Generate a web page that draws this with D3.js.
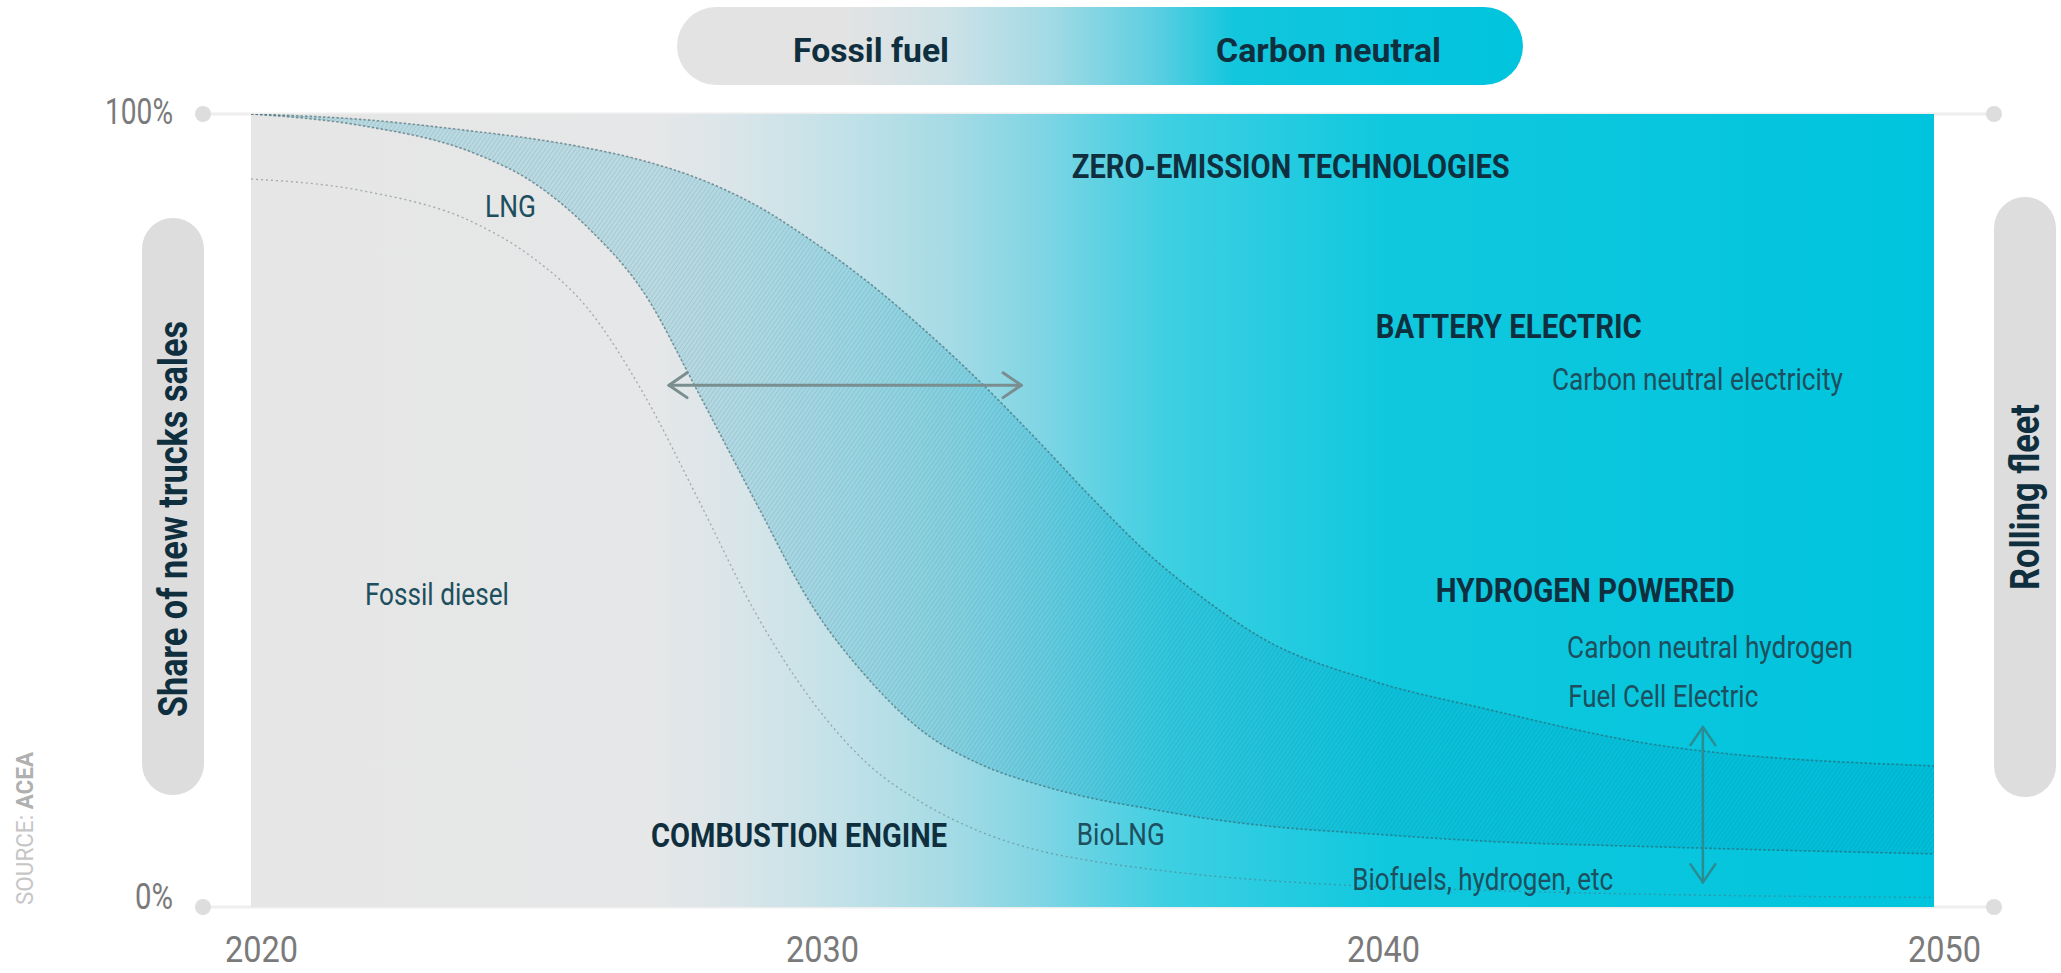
<!DOCTYPE html>
<html>
<head>
<meta charset="utf-8">
<script src="https://cdn.jsdelivr.net/npm/d3@7"></script>
<style>
  body { margin: 0; background: #fff; }
  svg text { font-family: Roboto, "Noto Sans", sans-serif; }
</style>
</head>
<body>
<div id="viz"></div>
<script>
// share of new truck sales (%)
const years        = [2020, 2022, 2024, 2025, 2026, 2027, 2028, 2029, 2030, 2031, 2032, 2033, 2034, 2035, 2036, 2037, 2038, 2040, 2042, 2045, 2050];
const zeroEmission = [100, 99.3, 97.8, 96.9, 95.7, 94.1, 91.8, 88.5, 84.0, 78.8, 72.8, 66.2, 59.0, 51.5, 44.5, 38.8, 34.0, 28.5, 25.0, 20.5, 17.8];
const lngLower     = [100, 98.5, 95.0, 91.5, 85.7, 77.5, 64.5, 51.0, 38.0, 28.8, 22.0, 18.0, 15.5, 13.7, 12.4, 11.2, 10.3, 9.2, 8.3, 7.6, 6.7];
const diesel       = [91.8, 90.3, 86.2, 82.0, 75.5, 64.7, 51.0, 37.0, 26.0, 18.0, 13.0, 9.5, 7.2, 5.8, 4.8, 4.0, 3.4, 2.6, 2.1, 1.6, 1.2];
const yearTicks    = [2020, 2030, 2040, 2050];
const pctTicks     = [0, 100];

const W = 2061, H = 973;
const P = {left: 251, right: 1934, top: 114, bottom: 907};
const DARK = '#0f2f3f', MID = '#1d4f5e', GREY = '#7a7a7a', CYAN = '#00c4dd';

const x = d3.scaleLinear().domain([2020, 2050]).range([P.left, P.right]);
const y = d3.scaleLinear().domain([0, 100]).range([P.bottom, P.top]);

const rows = years.map((yr, i) => ({year: yr, hi: zeroEmission[i], lo: lngLower[i], diesel: diesel[i]}));

const svg = d3.select('#viz').append('svg')
    .attr('width', W)
    .attr('height', H);

const defs = svg.append('defs');

const plotGrad = defs.append('linearGradient')
    .attr('id', 'plotGrad')
    .attr('gradientUnits', 'userSpaceOnUse')
    .attr('x1', P.left).attr('x2', P.right).attr('y1', 0).attr('y2', 0);
[[0, '#e6e6e6'], [0.24, '#e6e7e8'], [0.29, '#d9e5e9'], [0.356, '#c0e1e8'], [0.415, '#a5dbe5'],
 [0.469, '#80d5e4'], [0.513, '#58d1e3'], [0.546, '#3dcfe2'], [0.674, '#10c8de'], [1, CYAN]]
    .forEach(s => plotGrad.append('stop').attr('offset', s[0]).attr('stop-color', s[1]));

const pillGrad = defs.append('linearGradient')
    .attr('id', 'pillGrad')
    .attr('x1', 0).attr('x2', 1).attr('y1', 0).attr('y2', 0);
[[0, '#e3e3e3'], [0.2, '#e3e3e3'], [0.32, '#cde2e7'], [0.44, '#a2dae5'], [0.56, '#60cfe1'], [0.66, '#12c6dd'], [1, CYAN]]
    .forEach(s => pillGrad.append('stop').attr('offset', s[0]).attr('stop-color', s[1]));

const hatch = defs.append('pattern')
    .attr('id', 'hatch')
    .attr('width', 3.5).attr('height', 3.5)
    .attr('patternUnits', 'userSpaceOnUse')
    .attr('patternTransform', 'rotate(35)');
hatch.append('line')
    .attr('x1', 0).attr('y1', 0).attr('x2', 0).attr('y2', 3.5)
    .attr('stroke', 'rgba(0,70,90,0.17)')
    .attr('stroke-width', 1.2);

defs.append('clipPath').attr('id', 'plotClip')
  .append('rect')
    .attr('x', P.left).attr('y', P.top)
    .attr('width', P.right - P.left).attr('height', P.bottom - P.top);

// guide lines and dots at 0% / 100%
const dotL = P.left - 48, dotR = P.right + 60;
svg.selectAll('.guide')
    .data(pctTicks)
    .enter().append('line')
    .attr('x1', dotL).attr('x2', dotR)
    .attr('y1', d => y(d)).attr('y2', d => y(d))
    .attr('stroke', '#eeeeee')
    .attr('stroke-width', 3);
svg.selectAll('.dot')
    .data(pctTicks.flatMap(d => [[dotL, d], [dotR, d]]))
    .enter().append('circle')
    .attr('cx', d => d[0]).attr('cy', d => y(d[1]))
    .attr('r', 8)
    .attr('fill', '#dddddd');

// plot background
svg.append('rect')
    .attr('x', P.left).attr('y', P.top)
    .attr('width', P.right - P.left).attr('height', P.bottom - P.top)
    .attr('fill', 'url(#plotGrad)');

const plot = svg.append('g').attr('clip-path', 'url(#plotClip)');

const band = d3.area()
    .x(d => x(d.year))
    .y0(d => y(d.lo))
    .y1(d => y(d.hi))
    .curve(d3.curveMonotoneX);

plot.append('path').datum(rows)
    .attr('d', band)
    .attr('fill', 'rgba(0,160,195,0.19)');
plot.append('path').datum(rows)
    .attr('d', band)
    .attr('fill', 'url(#hatch)');

const edge = key => d3.line()
    .x(d => x(d.year))
    .y(d => y(d[key]))
    .curve(d3.curveMonotoneX);

['hi', 'lo'].forEach(k => {
    plot.append('path').datum(rows)
        .attr('d', edge(k))
        .attr('fill', 'none')
        .attr('stroke', 'rgba(50,85,95,0.55)')
        .attr('stroke-width', 1.6)
        .attr('stroke-dasharray', '2.5,2');
});
plot.append('path').datum(rows)
    .attr('d', edge('diesel'))
    .attr('fill', 'none')
    .attr('stroke', 'rgba(90,100,105,0.45)')
    .attr('stroke-width', 1.4)
    .attr('stroke-dasharray', '2,3');

// double arrows
function arrow(x1, y1, x2, y2, color, w) {
    const g = svg.append('g')
        .attr('stroke', color)
        .attr('stroke-width', w)
        .attr('fill', 'none')
        .attr('stroke-linecap', 'round')
        .attr('stroke-linejoin', 'round');
    g.append('line').attr('x1', x1).attr('y1', y1).attr('x2', x2).attr('y2', y2);
    const a = Math.atan2(y2 - y1, x2 - x1), L = 22, s = 0.6;
    [[x1, y1, a], [x2, y2, a + Math.PI]].forEach(([px, py, ang]) => {
        g.append('path').attr('d',
            `M${px + L * Math.cos(ang + s)},${py + L * Math.sin(ang + s)}L${px},${py}L${px + L * Math.cos(ang - s)},${py + L * Math.sin(ang - s)}`);
    });
}
arrow(x(2027.45), y(65.8), x(2033.73), y(65.8), '#7a8e90', 3);
arrow(x(2045.88), y(22.7), x(2045.88), y(3.1), '#2b8c93', 2.5);

// annotations inside the plot
const labels = [
    {t: 'ZERO-EMISSION TECHNOLOGIES', yr: 2034.63, v: 91.9, b: true, len: 438},
    {t: 'BATTERY ELECTRIC', yr: 2040.05, v: 71.75, b: true, len: 266},
    {t: 'Carbon neutral electricity', yr: 2043.19, v: 65.2, b: false, len: 291},
    {t: 'HYDROGEN POWERED', yr: 2041.12, v: 38.46, b: true, len: 299},
    {t: 'Carbon neutral hydrogen', yr: 2043.46, v: 31.4, b: false, len: 286},
    {t: 'Fuel Cell Electric', yr: 2043.48, v: 25.2, b: false, len: 190},
    {t: 'Biofuels, hydrogen, etc', yr: 2039.63, v: 2.14, b: false, len: 261},
    {t: 'BioLNG', yr: 2034.72, v: 7.82, b: false, len: 88},
    {t: 'COMBUSTION ENGINE', yr: 2027.13, v: 7.57, b: true, len: 296},
    {t: 'Fossil diesel', yr: 2022.03, v: 38.1, b: false, len: 144},
    {t: 'LNG', yr: 2024.17, v: 87.0, b: false, len: 51}
];
svg.selectAll('.lab')
    .data(labels)
    .enter().append('text')
    .attr('x', d => x(d.yr))
    .attr('y', d => y(d.v))
    .attr('font-size', d => d.b ? 34 : 31)
    .attr('font-weight', d => d.b ? 700 : 400)
    .attr('fill', d => d.b ? DARK : MID)
    .attr('textLength', d => d.len)
    .attr('lengthAdjust', 'spacingAndGlyphs')
    .text(d => d.t);

// axes
const xAxis = svg.append('g')
    .attr('transform', `translate(10,${P.bottom})`)
    .call(d3.axisBottom(x).tickValues(yearTicks).tickFormat(d3.format('d')).tickSize(0).tickPadding(29));
xAxis.select('.domain').remove();
xAxis.selectAll('text')
    .attr('font-size', 37)
    .attr('fill', GREY)
    .attr('textLength', 73)
    .attr('lengthAdjust', 'spacingAndGlyphs');

const yAxis = svg.append('g')
    .attr('transform', `translate(${dotL},0)`)
    .call(d3.axisLeft(y).tickValues(pctTicks).tickFormat(d => d + '%').tickSize(0).tickPadding(30));
yAxis.select('.domain').remove();
yAxis.selectAll('text')
    .attr('font-size', 36)
    .attr('fill', GREY)
    .attr('dy', d => d === 0 ? '0.05em' : '0.25em')
    .attr('textLength', d => d === 0 ? 38 : 68)
    .attr('lengthAdjust', 'spacingAndGlyphs');

// top pill
svg.append('rect')
    .attr('x', 677).attr('y', 7).attr('width', 846).attr('height', 78).attr('rx', 39)
    .attr('fill', 'url(#pillGrad)');
[['Fossil fuel', 793, 156], ['Carbon neutral', 1216, 225]].forEach(([t, px, len]) => {
    svg.append('text')
        .attr('x', px).attr('y', 62)
        .attr('font-size', 34).attr('font-weight', 700)
        .attr('fill', DARK)
        .attr('textLength', len).attr('lengthAdjust', 'spacingAndGlyphs')
        .text(t);
});

// side pills with vertical titles
[[142, 218, 577, 'Share of new trucks sales', 187, 519, 396],
 [1994, 197, 600, 'Rolling fleet', 2039, 497, 186]].forEach(([px, py, h, t, tx, ty, len]) => {
    svg.append('rect')
        .attr('x', px).attr('y', py).attr('width', 62).attr('height', h).attr('rx', 31)
        .attr('fill', '#dddddd');
    svg.append('text')
        .attr('transform', `translate(${tx},${ty}) rotate(-90)`)
        .attr('text-anchor', 'middle')
        .attr('font-size', 40).attr('font-weight', 700)
        .attr('fill', DARK)
        .attr('textLength', len).attr('lengthAdjust', 'spacingAndGlyphs')
        .text(t);
});

// source
const src = svg.append('text')
    .attr('transform', 'translate(33,905) rotate(-90)')
    .attr('font-size', 24)
    .attr('textLength', 153).attr('lengthAdjust', 'spacingAndGlyphs');
src.append('tspan').attr('fill', '#c6c6c6').text('SOURCE: ');
src.append('tspan').attr('fill', '#b0b0b0').attr('font-weight', 700).text('ACEA');
</script>
</body>
</html>
